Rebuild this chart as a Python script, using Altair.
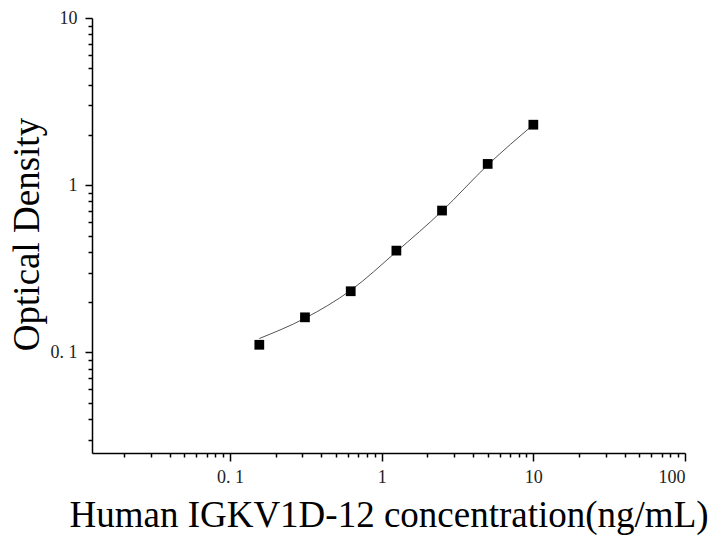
import altair as alt
import pandas as pd

# Standards (ng/mL) and measured optical density
conc = [0.156, 0.312, 0.625, 1.25, 2.5, 5, 10]
od = [0.111, 0.162, 0.232, 0.406, 0.705, 1.34, 2.30]

# Fitted curve
curve_x = [0.156, 0.312, 0.625, 1.25, 2.5, 5, 10]
curve_y = [0.121, 0.160, 0.235, 0.400, 0.700, 1.32, 2.30]

x_domain = [0.0123, 100]
y_domain = [0.025, 10]

x_ticks = [0.02, 0.03, 0.04, 0.05, 0.06, 0.07, 0.08, 0.09,
           0.1, 0.2, 0.3, 0.4, 0.5, 0.6, 0.7, 0.8, 0.9,
           1, 2, 3, 4, 5, 6, 7, 8, 9,
           10, 20, 30, 40, 50, 60, 70, 80, 90, 100]
y_ticks = [0.03, 0.04, 0.05, 0.06, 0.07, 0.08, 0.09,
           0.1, 0.2, 0.3, 0.4, 0.5, 0.6, 0.7, 0.8, 0.9,
           1, 2, 3, 4, 5, 6, 7, 8, 9, 10]

pts = pd.DataFrame({"x": conc, "y": od})
crv = pd.DataFrame({"x": curve_x, "y": curve_y})

MAJOR = "abs(log(datum.value)/LN10 - round(log(datum.value)/LN10)) < 0.001"
LABEL = ("(" + MAJOR + ") ? (abs(datum.value - 0.1) < 1e-9 ? '0. 1' : '' + datum.value) : ''")

FONT = "Liberation Serif"

x_axis = alt.Axis(
    values=x_ticks, labelExpr=LABEL, labelOverlap=False,
    tickSize={"condition": {"test": MAJOR, "value": 8}, "value": 4},
    title="Human IGKV1D-12 concentration(ng/mL)",
    titleY=73, titleBaseline="alphabetic",
    labelPadding=7, grid=False,
)
y_axis = alt.Axis(
    values=y_ticks, labelExpr=LABEL, labelOverlap=False,
    tickSize={"condition": {"test": MAJOR, "value": 7}, "value": 4},
    title="Optical Density",
    titleAngle=270, titleX=-54, titleY=216, titleAlign="center",
    titleBaseline="alphabetic",
    labelPadding=8, grid=False,
)

xs = alt.Scale(type="log", domain=x_domain, nice=False, zero=False)
ys = alt.Scale(type="log", domain=y_domain, nice=False, zero=False)

line = alt.Chart(crv).mark_line(color="#555555", strokeWidth=1, interpolate="monotone").encode(
    x=alt.X("x:Q", scale=xs, axis=x_axis),
    y=alt.Y("y:Q", scale=ys, axis=y_axis),
)
points = alt.Chart(pts).mark_square(color="black", size=95, opacity=1).encode(
    x=alt.X("x:Q", scale=xs),
    y=alt.Y("y:Q", scale=ys),
)

chart = (line + points).properties(
    width=593, height=435,
    autosize=alt.AutoSizeParams(type="none"),
    padding={"left": 84, "top": 10, "right": 27, "bottom": 82},
).configure_view(stroke=None).configure_axis(
    labelFont=FONT, labelFontSize=18, labelColor="#222222",
    titleFont=FONT, titleFontSize=37, titleFontWeight="normal", titleColor="black",
    domainColor="black", domainWidth=1.5, tickColor="black", tickWidth=1.5,
)

chart.save("out.html", embed_options={"renderer": "svg", "actions": False})
